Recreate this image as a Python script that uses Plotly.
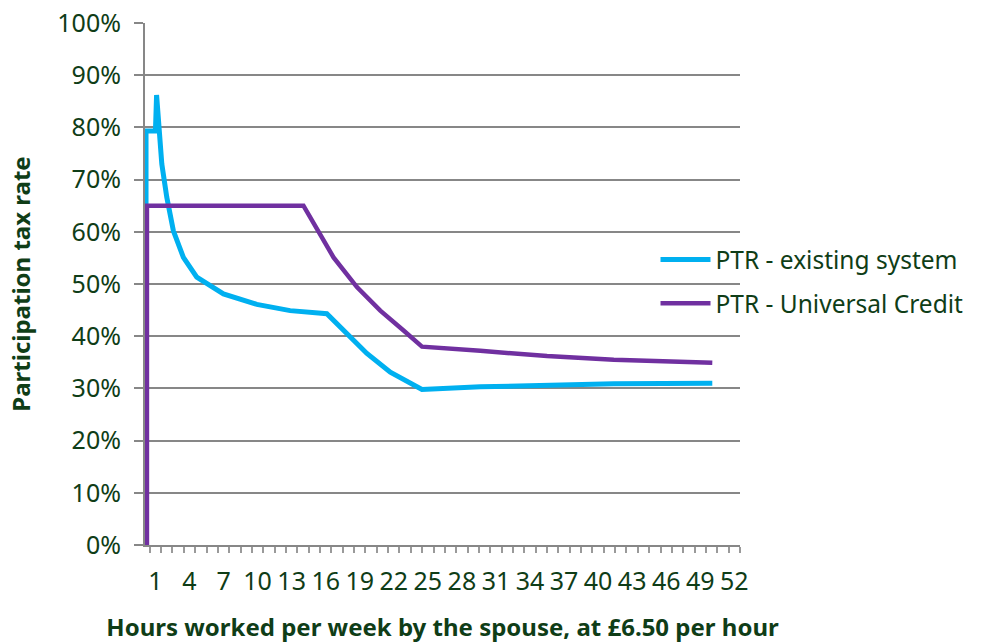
import plotly.graph_objects as go

# hours worked per week (x) and participation tax rate in % (y)
existing_hours = [0.17, 0.17, 1.0, 1.1, 1.56, 2.0, 2.58, 3.46, 4.64, 6.99, 9.93,
                  12.87, 16.1, 17.87, 19.63, 21.69, 24.48, 29.62, 35.5, 41.38, 50.06]
existing_ptr = [0, 79.3, 79.3, 86.2, 73.0, 66.6, 60.2, 55.1, 51.3, 48.1, 46.1,
                44.9, 44.3, 40.5, 36.7, 33.1, 29.8, 30.3, 30.7, 30.9, 31.0]

uc_hours = [0.25, 0.25, 14.04, 15.51, 16.69, 18.75, 20.81, 22.86, 24.48,
            29.62, 35.5, 41.38, 50.06]
uc_ptr = [0, 65.0, 65.0, 59.6, 55.1, 49.4, 44.9, 41.1, 38.0,
          37.2, 36.2, 35.5, 34.9]

x_ticks = list(range(1, 53, 3))
y_ticks = list(range(0, 101, 10))

TEXT = "#0f3d17"
GRID = "#878787"
FONT = "Noto Sans"

fig = go.Figure()
fig.add_trace(go.Scatter(x=existing_hours, y=existing_ptr, mode="lines",
                         name="PTR - existing system", legendgroup="a",
                         line=dict(color="#00b0f0", width=5)))
fig.add_trace(go.Scatter(x=uc_hours, y=uc_ptr, mode="lines",
                         name="PTR - Universal Credit", legendgroup="b",
                         line=dict(color="#7030a0", width=4.5)))

fig.update_layout(
    width=981, height=643,
    margin=dict(l=145, r=241, t=23, b=98),
    plot_bgcolor="white", paper_bgcolor="white",
    font=dict(family=FONT, color=TEXT, size=25),
    # legend must stay inside the figure, otherwise plotly widens the right margin
    legend=dict(x=0.858, y=0.59, xanchor="left", yanchor="top",
                bgcolor="rgba(0,0,0,0)", font=dict(size=24.5, color=TEXT),
                itemwidth=50, tracegroupgap=9, traceorder="grouped"),
)
fig.update_xaxes(
    range=[0.08, 52.5], tickmode="array", tickvals=x_ticks,
    ticktext=[str(t) for t in x_ticks], ticks="", ticklabelstandoff=13,
    tickfont=dict(size=25, color=TEXT), automargin=False, tickangle=0,
    ticklabeloverflow="allow",
    showgrid=False, zeroline=False,
    showline=True, linecolor=GRID, linewidth=2,
    minor=dict(tick0=0.5, dtick=1, ticks="outside", ticklen=6,
               tickcolor="#9a9a9a", tickwidth=1.5, showgrid=False),
    title=dict(text="<b>Hours worked per week by the spouse, at £6.50 per hour</b>",
               font=dict(size=24, color=TEXT), standoff=23),
)
fig.update_yaxes(
    range=[0, 100], tickmode="array", tickvals=y_ticks,
    ticktext=[f"{t}%" for t in y_ticks], ticks="outside", ticklen=9,
    tickcolor=GRID, tickwidth=2, ticklabelstandoff=8,
    tickfont=dict(size=25, color=TEXT), automargin=False,
    ticklabeloverflow="allow",
    showgrid=True, gridcolor=GRID, gridwidth=2, zeroline=False,
    showline=True, linecolor=GRID, linewidth=2,
    title=dict(text="<b>Participation tax rate</b>",
               font=dict(size=24, color=TEXT), standoff=20),
)

# the page body has a default 8px margin; drop it so the figure sits at the corner
fig.write_html("out.html", config={"displayModeBar": False},
               post_script="document.body.style.margin = '0';")
